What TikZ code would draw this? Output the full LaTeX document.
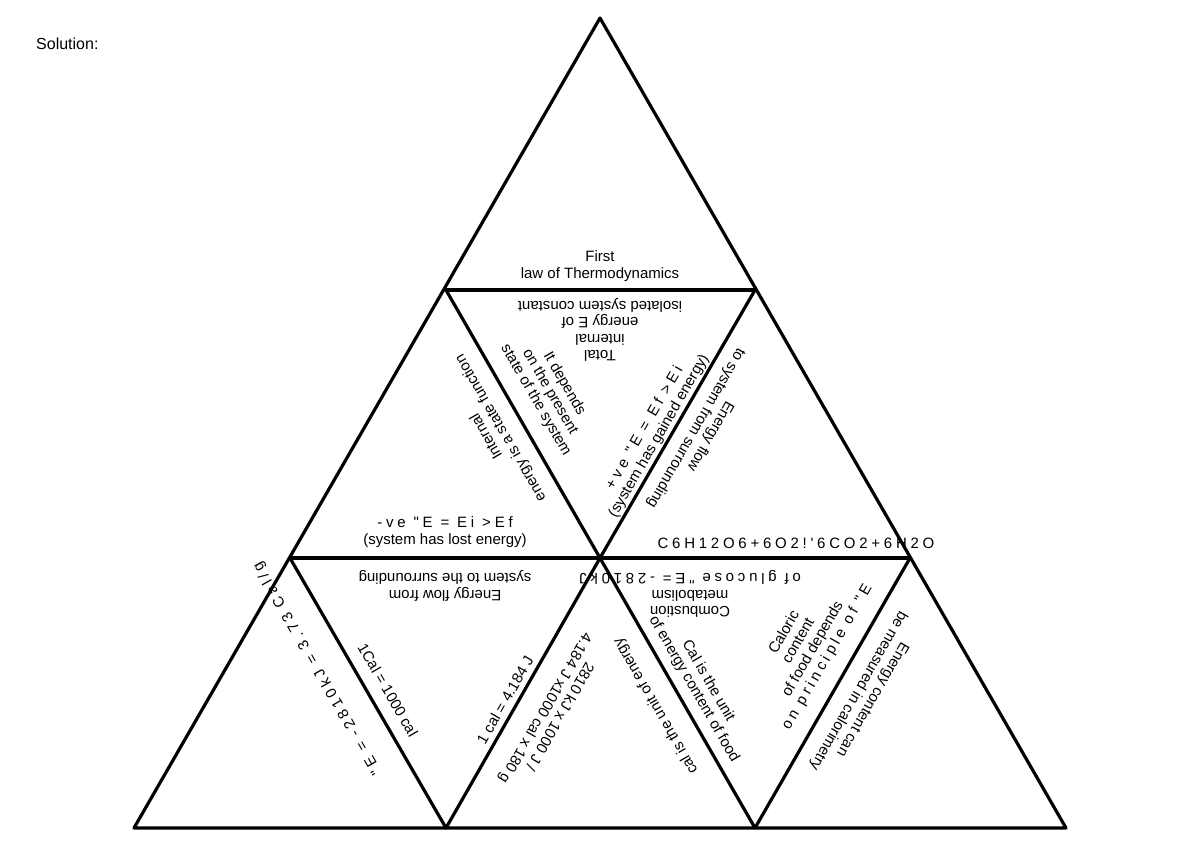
\documentclass[tikz,border=0pt]{standalone}
\usepackage{fontspec}
\setmainfont{Liberation Sans}
\newfontfamily\spaced[LetterSpace=25]{Liberation Sans}
\begin{document}
\begin{tikzpicture}[x=1pt,y=-1pt,
  edge/.style={line width=3.2pt,line cap=round,line join=round},
  lbl/.style={font=\fontsize{15}{16.5}\selectfont,align=center,inner sep=0pt}]
\useasboundingbox (0,0) rectangle (1200,849);
\coordinate (A) at (600,18);
\coordinate (L) at (134,828);
\coordinate (R) at (1066,828);
\coordinate (m1) at (446,290);
\coordinate (m2) at (755,290);
\coordinate (c1) at (290,558);
\coordinate (c2) at (600,558);
\coordinate (c3) at (910,558);
\coordinate (b1) at (446,828);
\coordinate (b2) at (755,828);
\draw[edge] (A) -- (L) -- (R) -- cycle;
\draw[edge] (m1) -- (m2);
\draw[edge] (c1) -- (c3);
\draw[edge] (m1) -- (c2) -- (m2);
\draw[edge] (c1) -- (b1) -- (c2) -- (b2) -- (c3);
\node[lbl,anchor=west,font=\fontsize{16}{18}\selectfont] (sol) at (36,44) {Solution:};
\node[lbl] (t1) at (600,266) {First\\law of Thermodynamics};
\node[lbl,rotate=180] (t2) at (600,330) {Total\\internal\\energy E of\\isolated system constant};
\node[lbl,rotate=120] (t3) at (494,432) {Internal\\energy is a state function};
\node[lbl,rotate=-60] (t4) at (550,392) {It depends\\on the present\\state of the system};
\node[lbl,rotate=60] (t5) at (652,432) {{\spaced +ve "E = Ef >Ei}\\(system has gained energy)};
\node[lbl,rotate=-120] (t6) at (703,432) {Energy flow\\to system from surrounding};
\node[lbl] (t7) at (445,532) {{\spaced -ve "E = Ei >Ef}\\(system has lost energy)};
\node[lbl,rotate=180] (t8) at (445,586) {Energy flow from\\system to the surrounding};
\node[lbl,font=\spaced\fontsize{15}{16.5}\selectfont] (t9) at (796,543) {C6H12O6+6O2!'6CO2+6H2O};
\node[lbl,rotate=180] (t10) at (690,594) {Combustion\\metabolism\\{\spaced of glucose "E= -2810kJ}};
\node[lbl,rotate=-60] (t11) at (388,690) {1Cal = 1000 cal};
\node[lbl,rotate=120] (t12) at (318,668) {\spaced "E = -2810kJ = 3.73 Cal/g};
\node[lbl,rotate=60] (t13) at (505,700) {1 cal = 4.184 J};
\node[lbl,rotate=-120] (t14) at (552,712) {2810 kJ x 1000 J /\\4.184 J x1000 cal x 180 g};
\node[lbl,rotate=-60] (t15) at (701,685) {Cal is the unit\\of energy content of food};
\node[lbl,rotate=120] (t16) at (656,706) {cal is the unit of energy};
\node[lbl,rotate=60] (t17) at (806,645) {Caloric\\content\\of food depends\\{\spaced on principle of "E}};
\node[lbl,rotate=-120] (t18) at (865,695) {Energy content can\\be measured in calorimetry};
\end{tikzpicture}
\end{document}
